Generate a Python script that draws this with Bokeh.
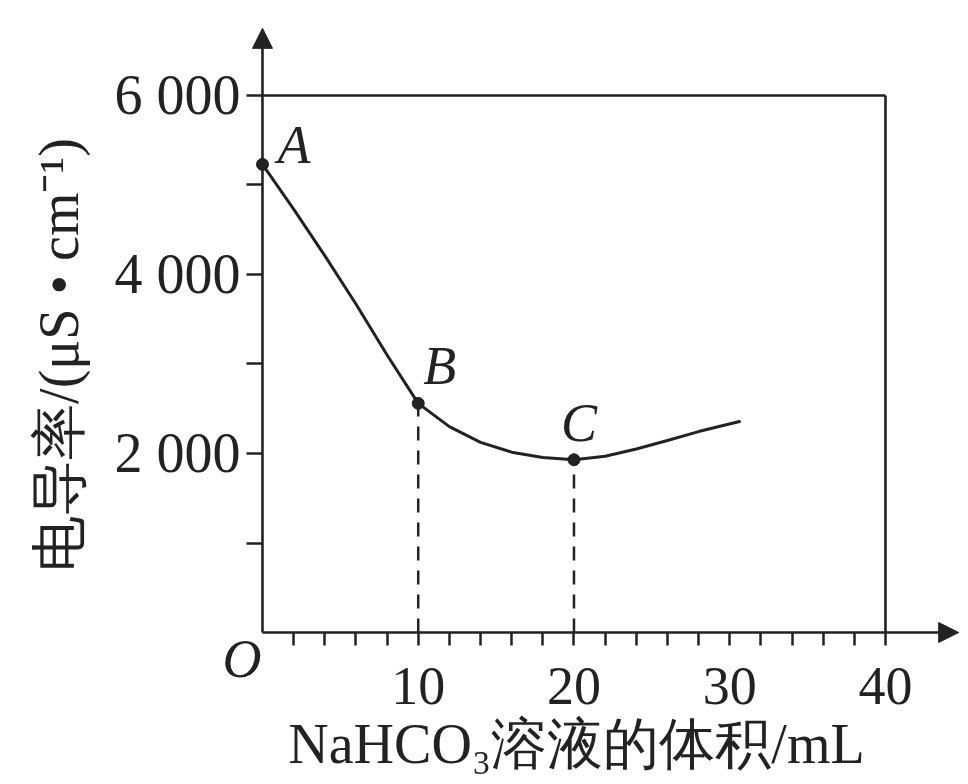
from bokeh.plotting import figure
from bokeh.models import Range1d, FixedTicker, Arrow, NormalHead, Label
from bokeh.embed import file_html
from bokeh.resources import INLINE

# ---- data ----
vol = [0, 2, 4, 6, 8, 10, 12, 14, 16, 18, 20, 22, 24, 26, 28, 30.7]
cond = [5230, 4730, 4210, 3670, 3100, 2560, 2300, 2125, 2015, 1955, 1930, 1970, 2050, 2145, 2245, 2360]

key_names = ["A", "B", "C"]
key_vol = [0, 10, 20]
key_cond = [5230, 2560, 1930]

x_major_ticks = [10, 20, 30, 40]
x_minor_ticks = [2, 4, 6, 8, 12, 14, 16, 18, 22, 24, 26, 28, 32, 34, 36, 38]
y_major_ticks = [2000, 4000, 6000]
y_minor_ticks = [1000, 3000, 5000]
y_tick_labels = ["2 000", "4 000", "6 000"]

box_x = 40
box_y = 6000

# visible window of the plot (data units)
x_start, x_end = -16.82, 45.33
y_start, y_end = -1698, 7061
x_arrow_tip = 44.7
y_arrow_tip = 6750

INK = "#222222"
SERIF = "Liberation Serif"

p = figure(width=968, height=784, title=None,
           x_range=Range1d(x_start, x_end), y_range=Range1d(y_start, y_end),
           output_backend="svg", toolbar_location=None, min_border=0)
p.xgrid.visible = False
p.ygrid.visible = False
p.outline_line_color = None
p.background_fill_color = "white"
p.border_fill_color = "white"

for ax in (p.xaxis[0], p.yaxis[0]):
    ax.fixed_location = 0
    ax.axis_line_color = None
    ax.major_tick_line_color = INK
    ax.minor_tick_line_color = INK
    ax.major_tick_line_width = 2.5
    ax.minor_tick_line_width = 2.5
    ax.major_tick_in = 0
    ax.minor_tick_in = 0
    ax.major_label_text_font = SERIF
    ax.major_label_text_color = INK
    ax.axis_label_text_font = SERIF
    ax.axis_label_text_font_style = "normal"
    ax.axis_label_text_color = INK

p.xaxis.ticker = FixedTicker(ticks=x_major_ticks, minor_ticks=x_minor_ticks)
p.xaxis.bounds = (0, 40.3)
p.xaxis.major_tick_out = 13
p.xaxis.minor_tick_out = 13
p.xaxis.major_label_text_font_size = "54px"
p.xaxis.major_label_standoff = 22
p.xaxis.axis_label = "NaHCO₃溶液的体积/mL"
p.xaxis.axis_label_text_font_size = "56px"
p.xaxis.axis_label_standoff = 6

p.yaxis.ticker = FixedTicker(ticks=y_major_ticks, minor_ticks=y_minor_ticks)
p.yaxis.bounds = (0, 6200)
p.yaxis.major_label_overrides = dict(zip(y_major_ticks, y_tick_labels))
p.yaxis.major_tick_out = 16
p.yaxis.minor_tick_out = 16
p.yaxis.major_label_text_font_size = "56px"
p.yaxis.major_label_standoff = 6
p.yaxis.axis_label = "电导率/(μS • cm⁻¹)"
p.yaxis.axis_label_text_font_size = "56px"
p.yaxis.axis_label_standoff = 22

# axes with arrow heads
p.add_layout(Arrow(end=NormalHead(size=20, fill_color=INK, line_color=INK),
                   x_start=0, y_start=0, x_end=x_arrow_tip, y_end=0,
                   line_color=INK, line_width=2.6))
p.add_layout(Arrow(end=NormalHead(size=20, fill_color=INK, line_color=INK),
                   x_start=0, y_start=0, x_end=0, y_end=y_arrow_tip,
                   line_color=INK, line_width=2.6))

# frame box lines
p.line([0, box_x], [box_y, box_y], line_color=INK, line_width=2.6)
p.line([box_x, box_x], [0, box_y], line_color=INK, line_width=2.6)

# dashed drop lines from B and C
p.segment(x0=key_vol[1:], y0=[0, 0], x1=key_vol[1:], y1=key_cond[1:],
          line_color=INK, line_width=2.5, line_dash="14 10")

# curve
p.line(vol, cond, line_color=INK, line_width=3)
p.scatter(key_vol, key_cond, size=12, color=INK)

offsets = {"A": (15, 19), "B": (5, 37), "C": (-13, 37)}
for name, xv, yv in zip(key_names, key_vol, key_cond):
    dx, dy = offsets[name]
    p.add_layout(Label(x=xv, y=yv, text=name, x_offset=dx, y_offset=dy,
                       text_font=SERIF, text_font_style="italic", text_font_size="54px",
                       text_color=INK, text_align="left", text_baseline="alphabetic"))

p.add_layout(Label(x=0, y=0, text="O", x_offset=-40, y_offset=-26,
                   text_font=SERIF, text_font_style="italic", text_font_size="54px",
                   text_color=INK, text_align="left", text_baseline="alphabetic"))

open("out.html", "w").write(file_html(p, INLINE))
